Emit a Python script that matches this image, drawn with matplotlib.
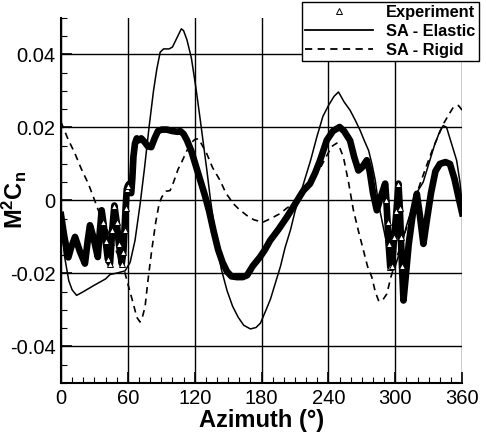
import matplotlib
matplotlib.use("Agg")
import matplotlib.pyplot as plt
from matplotlib.lines import Line2D

plt.rcParams['font.family'] = ['Liberation Sans', 'DejaVu Sans']
plt.rcParams['mathtext.fontset'] = 'custom'
plt.rcParams['mathtext.bf'] = 'Liberation Sans:bold'
plt.rcParams['mathtext.rm'] = 'Liberation Sans'
plt.rcParams['axes.unicode_minus'] = False

# Experiment (dense triangle markers in the original)
exp_az = [0, 3, 6.6, 9, 12.6, 17, 21.5, 24, 26, 29, 33, 35, 36.5, 38, 40, 42, 44, 46, 47.9, 50,
          52, 54.5, 56, 57, 58, 59, 60, 61, 62, 63, 64, 65, 66.4, 68, 70, 72, 75, 78, 81, 84,
          87, 90.4, 95, 100, 105, 107, 110, 113, 117, 121, 125, 129, 133, 137, 141, 145, 149, 153, 158, 163,
          167, 172, 178.6, 183, 187.6, 195, 202.6, 210, 217.5, 223.5, 228, 232.5, 238.5, 244, 250, 254, 259.4, 263, 266.9, 270,
          274.4, 277, 280, 283.4, 287, 290.9, 292, 293, 294, 295.5, 297, 299, 301, 302.8, 304, 305, 306, 307.3, 309, 312,
          316, 319.3, 322, 325.2, 328, 332, 336, 340, 345, 349, 353, 357, 360]
exp_val = [-0.004, -0.010, -0.0156, -0.013, -0.010, -0.014, -0.0173, -0.011, -0.0068, -0.010, -0.0155, -0.008, -0.0027, -0.006, -0.011, -0.016, -0.0173, -0.008, -0.0014, -0.006,
           -0.012, -0.0173, -0.014, -0.008, -0.002, 0.003, 0.004, 0.0045, 0.0025, 0.002, 0.006, 0.012, 0.0156, 0.017, 0.0165, 0.017, 0.016, 0.0148, 0.0146, 0.017,
           0.019, 0.0194, 0.0194, 0.019, 0.0188, 0.019, 0.0182, 0.0165, 0.0135, 0.0095, 0.0055, 0.0015, -0.003, -0.0085, -0.0135, -0.017, -0.0195, -0.0208, -0.021, -0.021,
           -0.0205, -0.018, -0.0155, -0.0135, -0.011, -0.008, -0.0046, -0.001, 0.0027, 0.0046, 0.0075, 0.011, 0.0165, 0.019, 0.0201, 0.019, 0.0164, 0.012, 0.0082, 0.009,
           0.011, 0.008, 0.002, -0.0027, 0.001, 0.0046, 0.000, -0.006, -0.012, -0.0183, -0.018, -0.010, -0.003, 0.0046, -0.002, -0.010, -0.018, -0.0274, -0.022, -0.012,
           -0.003, 0.0018, -0.004, -0.0119, -0.006, 0.002, 0.008, 0.010, 0.0105, 0.010, 0.006, 0.0005, -0.0035]

# SA - Elastic
el_az = [0, 3, 7, 10, 14, 20, 30, 40, 44, 50, 57.5, 62, 66.4, 71, 75, 79, 83, 86, 89, 92,
         97, 100, 104, 108, 110, 113, 117, 121, 125, 128, 131, 134, 137, 140, 144, 149, 154, 159, 164, 170,
         175, 179, 184, 188, 192, 197, 201, 206, 210, 215, 220, 224, 229.5, 235, 240, 245, 249, 254, 259.4, 264,
         268.4, 272, 276, 279, 282, 285, 289, 293, 297, 299, 305, 310, 315, 319, 325, 330, 335, 340, 343, 346,
         350, 355, 358, 360]
el_val = [-0.004, -0.015, -0.022, -0.0245, -0.026, -0.025, -0.0232, -0.0215, -0.0203, -0.0199, -0.0193, -0.017, -0.011, -0.001, 0.009, 0.020, 0.030, 0.036, 0.0406, 0.0415,
          0.0415, 0.042, 0.0445, 0.047, 0.0465, 0.044, 0.039, 0.031, 0.022, 0.015, 0.008, 0.0005, -0.006, -0.0128, -0.019, -0.0247, -0.029, -0.032, -0.0342, -0.0352,
          -0.0348, -0.0336, -0.030, -0.027, -0.023, -0.018, -0.013, -0.008, -0.003, 0.002, 0.007, 0.011, 0.0173, 0.023, 0.026, 0.0285, 0.0297, 0.027, 0.0247, 0.022,
          0.0192, 0.0165, 0.0137, 0.010, 0.0055, -0.001, -0.007, -0.013, -0.018, -0.019, -0.013, -0.007, -0.002, 0.002, 0.005, 0.010, 0.015, 0.019, 0.0205, 0.020,
          0.016, 0.011, 0.005, -0.001]

# SA - Rigid
rg_az = [0, 6, 12.6, 18, 24.5, 29, 33.5, 40, 45.5, 52, 57.5, 61, 64.9, 68, 70.9, 73, 75.4, 78, 81.4, 85,
         88, 90.4, 94, 97.9, 101, 105, 108.3, 112, 116, 120, 123.3, 126, 130.8, 136, 142.7, 148, 154.7, 160, 166.7, 173,
         178, 181.6, 188, 196.6, 203, 208.5, 214, 220.5, 226, 232, 238, 243, 247.5, 250, 253.4, 258, 262.4, 267, 271.4, 275,
         278.9, 282, 284.9, 288, 292.4, 296, 299.8, 305, 310.3, 316, 322.3, 328, 334.2, 339, 343.2, 348, 352.2, 356.7, 360]
rg_val = [0.0215, 0.017, 0.0128, 0.0088, 0.0046, 0.001, -0.0027, -0.007, -0.011, -0.0155, -0.020, -0.024, -0.0283, -0.032, -0.0333, -0.032, -0.0292, -0.022, -0.0137, -0.006,
          -0.001, 0.0009, 0.0025, 0.0027, 0.005, 0.0085, 0.0105, 0.013, 0.0155, 0.0167, 0.0169, 0.0155, 0.0128, 0.009, 0.0055, 0.002, -0.0009, -0.0025, -0.0041, -0.0053,
          -0.0057, -0.0059, -0.005, -0.0036, -0.002, -0.0009, 0.001, 0.0036, 0.006, 0.0085, 0.012, 0.0148, 0.0157, 0.0145, 0.0119, 0.005, -0.0027, -0.0085, -0.0137, -0.018,
          -0.021, -0.025, -0.0274, -0.0276, -0.0256, -0.021, -0.0173, -0.012, -0.0073, -0.001, 0.0046, 0.0095, 0.0146, 0.018, 0.021, 0.0235, 0.0256, 0.026, 0.0247]

xticks = [0, 60, 120, 180, 240, 300, 360]
yticks = [-0.04, -0.02, 0, 0.02, 0.04]
ytick_labels = ['-0.04', '-0.02', '0', '0.02', '0.04']

fig = plt.figure(figsize=(4.86, 4.36), dpi=100)
ax = fig.add_axes([0.1255, 0.1216, 0.8255, 0.8374])

ax.plot(rg_az, rg_val, color='black', lw=1.2, ls=(0, (4, 3)), zorder=3)
ax.plot(el_az, el_val, color='black', lw=1.1, zorder=3)
ax.plot(exp_az, exp_val, color='black', lw=4.8, solid_joinstyle='round', zorder=4)
# steep stretches where the single triangles show up
steep = [i for i, a in enumerate(exp_az) if 38 <= a <= 60 or 291 <= a <= 307]
ax.plot([exp_az[i] for i in steep], [exp_val[i] for i in steep], ls='none', marker='^',
        ms=4, mfc='white', mec='black', mew=0.7, zorder=5)

ax.set_xlim(0, 360)
ax.set_ylim(-0.05, 0.05)
ax.set_xticks(xticks)
ax.set_xticks(range(0, 361, 10), minor=True)
ax.set_yticks(yticks)
ax.set_yticklabels(ytick_labels)
ax.set_yticks([v / 1000 for v in range(-50, 51, 5)], minor=True)
ax.grid(True, which='major', color='black', lw=1.0)
ax.set_axisbelow(True)
ax.tick_params(which='major', direction='in', length=8, width=1.2, labelsize=14.5, pad=4)
ax.tick_params(which='minor', direction='in', length=4, width=0.8)
ax.spines['top'].set_visible(False)
ax.spines['right'].set_visible(False)
ax.spines['left'].set_linewidth(1.5)
ax.spines['bottom'].set_linewidth(1.5)

ax.set_xlabel('Azimuth (°)', fontsize=17, fontweight='bold')
ax.xaxis.set_label_coords(0.5, -0.07)
ax.set_ylabel(r'$\mathbf{M^2C_n}$', fontsize=17)
ax.yaxis.set_label_coords(-0.08, 0.5)

handles = [Line2D([], [], ls='none', marker='^', ms=4, mfc='white', mec='black', mew=0.7),
           Line2D([], [], color='black', lw=1.3),
           Line2D([], [], color='black', lw=1.3, ls=(0, (4, 3)))]
leg = fig.legend(handles, ['Experiment', 'SA - Elastic', 'SA - Rigid'],
                 loc='upper right', bbox_to_anchor=(0.985, 0.996), bbox_transform=fig.transFigure,
                 fancybox=False, edgecolor='black', framealpha=1, handlelength=4.15,
                 borderpad=0.2, borderaxespad=0, labelspacing=0.25, handletextpad=0.8,
                 prop={'weight': 'bold', 'size': 11.8})
leg.get_frame().set_linewidth(1.0)

plt.savefig("out.png", dpi=100)
